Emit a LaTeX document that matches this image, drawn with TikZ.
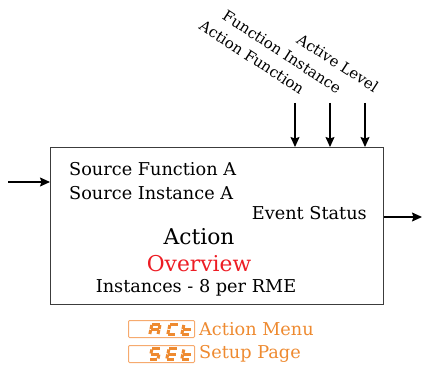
\documentclass[tikz,border=0pt]{standalone}
\usepackage{fontspec}
\setmainfont{DejaVu Serif}
\usetikzlibrary{arrows.meta}
\definecolor{orT}{RGB}{238,138,48}
\definecolor{orB}{RGB}{246,170,110}
\definecolor{ovred}{RGB}{237,28,36}
\definecolor{boxgray}{RGB}{60,60,60}
\newcommand\svsga{\draw[seg] (1.9,-11.6) -- (9.1,-11.6);}
\newcommand\svsgb{\draw[seg] (9.6,-11) -- (9.6,-7);}
\newcommand\svsgc{\draw[seg] (9.6,-6) -- (9.6,-2);}
\newcommand\svsgd{\draw[seg] (1.9,-1.4) -- (9.1,-1.4);}
\newcommand\svsge{\draw[seg] (1.4,-2) -- (1.4,-6);}
\newcommand\svsgf{\draw[seg] (1.4,-7) -- (1.4,-11);}
\newcommand\svsgg{\draw[seg] (1.9,-6.5) -- (9.1,-6.5);}
\newcommand\segletter[2]{\begin{scope}[shift={#1}, xslant=0.22]
  \foreach \s in {#2} {\csname svsg\s\endcsname}
\end{scope}}
\begin{document}
\begin{tikzpicture}[x=1pt,y=-1pt,
  every node/.style={inner sep=0pt, font=\fontsize{17.7}{21}\selectfont},
  big/.style={font=\fontsize{21.8}{26}\selectfont},
  toplab/.style={anchor=base east, rotate=-33, font=\fontsize{15}{17}\selectfont},
  arr/.style={-{Stealth[length=10pt,width=9pt,inset=1.5pt]}, line width=1.1pt},
  seg/.style={draw=orT, line width=3pt},
  menubox/.style={draw=orB, line width=1pt, rounded corners=1pt, minimum width=66pt, minimum height=17pt, anchor=north west},
  menutext/.style={anchor=base west, text=orT}]
\useasboundingbox (0,0) rectangle (422,366);
% main box
\node[draw=boxgray, line width=1.1pt, minimum width=333pt, minimum height=157pt, anchor=north west] (box) at (50,147) {};
\node[anchor=base west] (sf) at (69,175) {Source Function A};
\node[anchor=base west] (si) at (69,199) {Source Instance A};
\node[anchor=base east] (es) at (367,219) {Event Status};
\node[anchor=base, big] (act) at (199,244) {Action};
\node[anchor=base, big, text=ovred] (ov) at (199,271) {Overview};
\node[anchor=base] (inst) at (196,292) {Instances - 8 per RME};
% side arrows
\coordinate (inL) at (8,182);
\draw[arr] (inL) -- (inL -| box.west);
\coordinate (outR) at (422,217);
\draw[arr] (outR -| box.east) -- (outR);
% top arrows
\coordinate (t1) at (295,103);
\coordinate (t2) at (330,103);
\coordinate (t3) at (365,103);
\draw[arr] (t1) -- (t1 |- box.north);
\draw[arr] (t2) -- (t2 |- box.north);
\draw[arr] (t3) -- (t3 |- box.north);
\node[toplab] (l1) at (300,95) {Action Function};
\node[toplab] (l2) at (337,94) {Function Instance};
\node[toplab] (l3) at (374,93) {Active Level};
% menu boxes
\node[menubox] (m1) at (128,320) {};
\node[menubox] (m2) at (128,345) {};
\node[menutext] (m1t) at (199,335) {Action Menu};
\node[menutext] (m2t) at (199,358) {Setup Page};
\segletter{(148,336)}{a,b,c,e,f,g}
\segletter{(166,336)}{a,d,e,f}
\segletter{(180,336)}{d,e,f,g}
\segletter{(148,360.5)}{a,f,g,c,d}
\segletter{(165,360.5)}{a,d,e,f,g}
\segletter{(180,360.5)}{d,e,f,g}
\end{tikzpicture}
\end{document}
